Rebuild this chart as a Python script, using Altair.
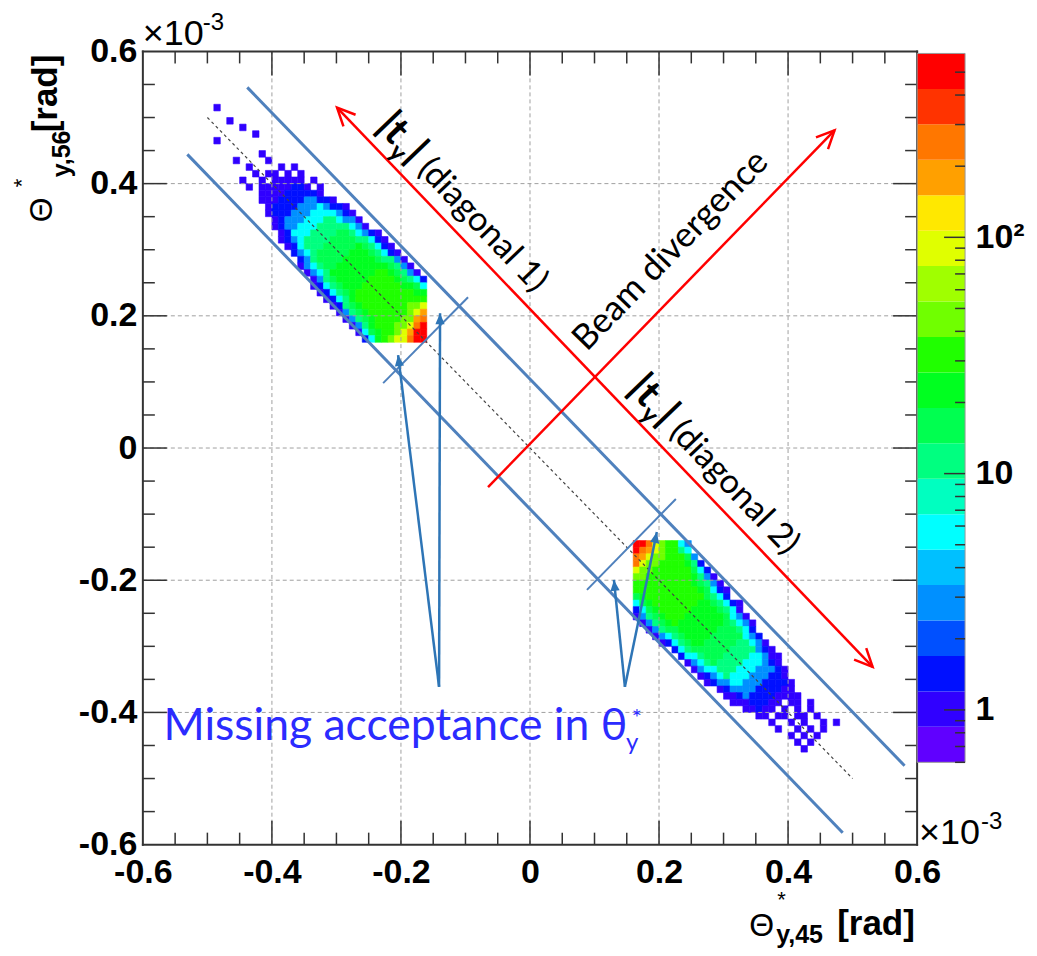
import math
import altair as alt
import pandas as pd

# ------------------------------------------------------------------ layout
W, H = 775, 794
PAD = {"left": 135, "top": 43, "right": 112, "bottom": 103}

# ------------------------------------------------------------------ axes
X_DOMAIN = [-0.6, 0.6]
Y_DOMAIN = [-0.6, 0.6]
MAJOR_TICKS = [-0.6, -0.4, -0.2, 0.0, 0.2, 0.4, 0.6]
MAJOR_LABELS = ["-0.6", "-0.4", "-0.2", "0", "0.2", "0.4", "0.6"]
MINOR_TICKS = [-0.55, -0.5, -0.45, -0.35, -0.3, -0.25, -0.15, -0.1, -0.05,
               0.05, 0.1, 0.15, 0.25, 0.3, 0.35, 0.45, 0.5, 0.55]

# ------------------------------------------------------------------ z palette / colour bar
PALETTE = ["#6000ff", "#3000ff", "#0010ff", "#0050ff", "#0090ff", "#00c0ff",
           "#00ffff", "#00ffc0", "#00ff80", "#00ff50", "#00ff20", "#20ff00",
           "#70ff00", "#a0ff00", "#e0ff00", "#ffe800", "#ffa000", "#ff7700",
           "#ff3300", "#ff0000"]
Z_MIN, Z_MAX = 0.6, 600.0
CB_DOMAIN = [0.269, 612.0]
CB_TICKS = [1, 10, 100]
CB_LABELS = ["1", "10", "10²"]
CB_MINOR = [0.6, 0.7, 0.8, 0.9, 2, 3, 4, 5, 6, 7, 8, 9,
            20, 30, 40, 50, 60, 70, 80, 90, 200, 300, 400, 500]

# ------------------------------------------------------------------ histogram (0.01 rad bins)
BIN = 0.01
LEVELS = "123456789abcd"
LEVEL_VALUES = [1.0, 1.4, 2.8, 5.7, 11, 16, 22, 32, 45, 90, 180, 250, 500]

# diagonal 1 (top-left blob): columns from x=-0.52, rows from y=0.52 downwards
BLOB1_X0, BLOB1_YTOP = -0.52, 0.52
BLOB1_ROWS = [
    (3, "1"), (0, ""), (5, "1"), (7, "1"), (9, "1"), (3, "1"), (0, ""),
    (10, "1"), (6, "1....1"), (8, "1....1.1"), (9, "1.11.1.1"),
    (7, "1..1.11111.1"), (8, "1.11111221.1"), (10, "1111222221"),
    (10, "111222233221"), (11, "1222233343221"), (11, "12223334444321"),
    (12, "12333444554331"), (12, "123344455555431"), (13, "1244455556654321"),
    (13, "12345555666655421"), (14, "12455566666765421"), (15, "23456666677765421"),
    (16, "23566667777765531"), (16, "134566777777776531"), (17, "134577777778876531"),
    (18, "135677777888876542"), (18, "124567778888887764"), (19, "12456788888888877"),
    (20, "1245788888888888"), (21, "12567888888899a"), (22, "135678888889ab"),
    (23, "13567888899bc"), (24, "135788899acd"), (25, "1467889abdd"),
    (26, "24789aacdd"),
]

# diagonal 2 (bottom-right blob): columns from x=0.16, rows from y=-0.14 downwards
BLOB2_X0, BLOB2_YTOP = 0.16, -0.14
BLOB2_ROWS = [
    (0, "ddca98843"), (0, "dcba98854"), (0, "cba9988863"), (0, "ca998888752"),
    (0, "a99888888642"), (0, "9988888887531"), (0, "88888888876531"),
    (0, "888888888876421"), (0, "678888888886542"), (0, "46788888887765421"),
    (0, "24678888877776541"), (0, "135678887777776431"), (1, "135678777777765431"),
    (2, "13566777777666542"), (3, "13456777766666432"), (4, "12456776666655431"),
    (6, "2456666665555321"), (7, "2445666555544311"), (8, "134565555444321"),
    (9, "134455544433321"), (10, "12345444333221"), (11, "12334433322221"),
    (13, "123333222211"), (14, "112322221111"), (15, "11122211.11.1"),
    (17, "11211.1.1.1"), (19, "11.11.11.1"), (21, "1..1.1..1.1"),
    (22, "1..1.1.1"), (24, "1.1.1"), (25, "1.1"), (26, "1"),
]

# ------------------------------------------------------------------ annotation geometry (data units)
DIAGONAL = [(-0.5, 0.5, 0.5, -0.5)]
BAND_LINES = [(-0.4382, 0.5456, 0.5806, -0.4806), (-0.5311, 0.4443, 0.4847, -0.5819)]
CUT_LINES = [(-0.2276, 0.0982, -0.0960, 0.2282), (0.0883, -0.2146, 0.2261, -0.0771)]
BLUE_ARROWS = [(-0.1409, -0.3612, -0.2044, 0.1406), (-0.1409, -0.3612, -0.1394, 0.2040),
               (0.1471, -0.3612, 0.1301, -0.1995), (0.1471, -0.3612, 0.1966, -0.1270)]
RED_T = (-0.299, 0.515, 0.531, -0.331)      # |t_y| direction, heads at both ends
RED_B = (-0.065, -0.059, 0.472, 0.4806)     # beam divergence, head at end
DIAG_TEXT = [(-0.240, 0.485, "(diagonal 1)"), (0.150, 0.088, "(diagonal 2)")]
BEAM_TEXT = (0.088, 0.145, "Beam divergence")
MISSING_TEXT = (-0.568, -0.441, "Missing acceptance in θ")
MISSING_SUB = (0.1487, -0.4564, "y")
MISSING_SUP = (0.1657, -0.4096, "*")

SX = W / (X_DOMAIN[1] - X_DOMAIN[0])
SY = H / (Y_DOMAIN[1] - Y_DOMAIN[0])

# ------------------------------------------------------------------ helpers
def label_expr(vals, labs):
    parts = [f"abs(datum.value - ({v})) < 1e-6 ? '{l}'" for v, l in zip(vals, labs)]
    return " : ".join(parts) + " : ''"


xs = alt.Scale(domain=X_DOMAIN, nice=False, zero=False)
ys = alt.Scale(domain=Y_DOMAIN, nice=False, zero=False)
AX = dict(values=MAJOR_TICKS, labelExpr=label_expr(MAJOR_TICKS, MAJOR_LABELS), title=None,
          ticks=False, domain=False, grid=False, labelFont="Liberation Sans",
          labelFontSize=34, labelFontWeight="bold", labelColor="#000",
          labelFlush=False, labelOverlap=False)
xaxis = alt.Axis(orient="bottom", labelPadding=11, **AX)
yaxis = alt.Axis(orient="left", labelPadding=6, **AX)


def X(f):
    return alt.X(f, type="quantitative", scale=xs, axis=xaxis)


def Y(f):
    return alt.Y(f, type="quantitative", scale=ys, axis=yaxis)


thresholds = [Z_MIN * (Z_MAX / Z_MIN) ** (k / len(PALETTE)) for k in range(1, len(PALETTE))]
cscale = alt.Scale(type="threshold", domain=thresholds, range=PALETTE)


def cells(x0, ytop, rows):
    out = []
    for r, (start, pat) in enumerate(rows):
        for k, ch in enumerate(pat):
            if ch == ".":
                continue
            c = start + k
            xl = round(x0 + c * BIN, 4)
            yt = round(ytop - r * BIN, 4)
            out.append(dict(x=xl, x2=round(xl + BIN, 4), y=round(yt - BIN, 4), y2=yt,
                            z=LEVEL_VALUES[LEVELS.index(ch)]))
    return out


def segs(rows, color, width, dash=None, cap="butt"):
    df = pd.DataFrame(rows, columns=["x", "y", "x2", "y2"])
    kw = dict(color=color, strokeWidth=width, strokeCap=cap)
    if dash:
        kw["strokeDash"] = dash
    return alt.Chart(df).mark_rule(**kw).encode(x=X("x"), y=Y("y"), x2=alt.X2("x2"), y2=alt.Y2("y2"))


def head_angle(x0, y0, x1, y1):
    px, py = (x1 - x0) * SX, -(y1 - y0) * SY
    return math.degrees(math.atan2(px, -py)) % 360


def text_angle(x0, y0, x1, y1):
    px, py = (x1 - x0) * SX, -(y1 - y0) * SY
    return math.degrees(math.atan2(py, px)) % 360


def shift(x, y, ang, along, perp=0.0):
    a = math.radians(ang)
    sx = along * math.cos(a) - perp * math.sin(a)
    sy = along * math.sin(a) + perp * math.cos(a)
    return x + sx / SX, y - sy / SY


def heads(points, shape, size, color, filled, width=0.0):
    df = pd.DataFrame(points, columns=["x", "y", "ang"])
    return alt.Chart(df).mark_point(shape=shape, size=size, filled=filled, opacity=1,
                                    color=color, strokeWidth=width, strokeJoin="miter").encode(
        x=X("x"), y=Y("y"), angle=alt.Angle("ang:Q", scale=None))


def dtext(rows, size, weight="normal", font="Lato, 'Noto Sans', sans-serif", color="#000",
          align="left", baseline="alphabetic"):
    df = pd.DataFrame(rows, columns=["x", "y", "text", "ang"])
    return alt.Chart(df).mark_text(font=font, fontSize=size, fontWeight=weight, color=color,
                                   align=align, baseline=baseline).encode(
        x=X("x"), y=Y("y"), text="text:N", angle=alt.Angle("ang:Q", scale=None))


def ptext(text, px, py, size, weight="normal", angle=0, font="Liberation Sans"):
    return alt.Chart(pd.DataFrame({"t": [text]})).mark_text(
        text=text, font=font, fontSize=size, fontWeight=weight, angle=angle, color="#000",
        align="left", baseline="alphabetic").encode(x=alt.value(px), y=alt.value(py))


# ------------------------------------------------------------------ histogram layer
cell_df = pd.DataFrame(cells(BLOB1_X0, BLOB1_YTOP, BLOB1_ROWS) + cells(BLOB2_X0, BLOB2_YTOP, BLOB2_ROWS))
heat = alt.Chart(cell_df).mark_rect(strokeWidth=0.6).encode(
    x=X("x"), x2=alt.X2("x2"), y=Y("y"), y2=alt.Y2("y2"),
    color=alt.Color("z:Q", scale=cscale, legend=None),
    stroke=alt.Stroke("z:Q", scale=cscale, legend=None))

# grid (drawn over the histogram, like ROOT)
inner = [v for v in MAJOR_TICKS if abs(abs(v) - 0.6) > 1e-9]
grid_rows = [(v, Y_DOMAIN[0], v, Y_DOMAIN[1]) for v in inner] + [(X_DOMAIN[0], v, X_DOMAIN[1], v) for v in inner]
grid = segs(grid_rows, "#a0a0a0", 1, dash=[4, 3])

dotted = segs(DIAGONAL, "#444444", 1.2, dash=[3, 3])
band = segs(BAND_LINES, "#4f81bd", 3)
cuts = segs(CUT_LINES, "#4f81bd", 2)

# blue arrows
bshaft = segs(BLUE_ARROWS, "#2e75b6", 2.5)
bhead = heads([(x1, y1, head_angle(x0, y0, x1, y1)) for x0, y0, x1, y1 in BLUE_ARROWS],
              "M0,0 L-0.42,1 L0.42,1 Z", 484, "#2e75b6", True)

# red arrows
rshaft = segs([RED_T, RED_B], "#ff0000", 2.5)
V = "M-0.42,0.9 L0,0 L0.42,0.9"
rhead_pts = [
    (RED_T[0], RED_T[1], head_angle(RED_T[2], RED_T[3], RED_T[0], RED_T[1])),
    (RED_T[2], RED_T[3], head_angle(RED_T[0], RED_T[1], RED_T[2], RED_T[3])),
    (RED_B[2], RED_B[3], head_angle(RED_B[0], RED_B[1], RED_B[2], RED_B[3])),
]
rhead = heads(rhead_pts, V, 1600, "#ff0000", False, 2.5)

# rotated labels along the red arrows
a_t = text_angle(*RED_T)
a_b = text_angle(*RED_B)
big_rows, sub_rows, par_rows = [], [], []
for ax_, ay_, lab in DIAG_TEXT:
    big_rows.append((*shift(ax_, ay_, a_t, 0), "|t", a_t))
    sub_rows.append((*shift(ax_, ay_, a_t, 27, 9), "y", a_t))
    big_rows.append((*shift(ax_, ay_, a_t, 41), "|", a_t))
    par_rows.append((*shift(ax_, ay_, a_t, 60), lab, a_t))
t_big = dtext(big_rows, 40, "bold")
t_sub = dtext(sub_rows, 25, "bold")
t_par = dtext(par_rows, 34)
t_beam = dtext([(BEAM_TEXT[0], BEAM_TEXT[1], BEAM_TEXT[2], a_b)], 35)

BLUE_TXT = "#2b2bff"
t_miss = dtext([(*MISSING_TEXT, 0)], 44.5, color=BLUE_TXT)
t_msub = dtext([(*MISSING_SUB, 0)], 24, color=BLUE_TXT)
t_msup = dtext([(*MISSING_SUP, 0)], 24, color=BLUE_TXT, align="center", baseline="middle")

# frame and inward ticks
frame = segs([(X_DOMAIN[0], Y_DOMAIN[0], X_DOMAIN[1], Y_DOMAIN[0]),
              (X_DOMAIN[0], Y_DOMAIN[1], X_DOMAIN[1], Y_DOMAIN[1]),
              (X_DOMAIN[0], Y_DOMAIN[0], X_DOMAIN[0], Y_DOMAIN[1]),
              (X_DOMAIN[1], Y_DOMAIN[0], X_DOMAIN[1], Y_DOMAIN[1])], "#333333", 2, cap="square")
tick_rows = []
for v, L in [(v, 24) for v in inner] + [(v, 12) for v in MINOR_TICKS]:
    lx, ly = L / SX, L / SY
    tick_rows += [(v, Y_DOMAIN[0], v, Y_DOMAIN[0] + ly), (v, Y_DOMAIN[1], v, Y_DOMAIN[1] - ly),
                  (X_DOMAIN[0], v, X_DOMAIN[0] + lx, v), (X_DOMAIN[1], v, X_DOMAIN[1] - lx, v)]
ticks = segs(tick_rows, "#333333", 1.5)

# axis titles and exponent markers (pixel positions relative to the plot area)
titles = [
    ptext("Θ", 607, 885, 32), ptext("*", 635, 856, 22), ptext("y,45", 634, 892, 25, "bold"),
    ptext("[rad]", 695, 884, 35, "bold"),
    ptext("Θ", -91, 171, 32, angle=270), ptext("*", -114, 136, 22, angle=270),
    ptext("y,56", -73, 126, 25, "bold", angle=270), ptext("[rad]", -86, 81, 35, "bold", angle=270),
    ptext("×10", 0, -6, 36), ptext("-3", 60, -21, 24),
    ptext("×10", 777, 793, 36), ptext("-3", 839, 778, 24),
]

main = alt.layer(heat, grid, dotted, band, cuts, bshaft, bhead, rshaft, rhead,
                 t_big, t_sub, t_par, t_beam, t_miss, t_msub, t_msup, frame, ticks, *titles)

# ------------------------------------------------------------------ colour bar
cb_rows = []
n = len(PALETTE)
for k in range(n):
    lo = Z_MIN * (Z_MAX / Z_MIN) ** (k / n)
    hi = Z_MIN * (Z_MAX / Z_MIN) ** ((k + 1) / n)
    cb_rows.append(dict(lo=lo, hi=hi, mid=math.sqrt(lo * hi)))
cb_df = pd.DataFrame(cb_rows)
cbs = alt.Scale(type="log", domain=CB_DOMAIN, nice=False)
cb_axis = alt.Axis(orient="right", values=CB_TICKS, labelExpr=label_expr(CB_TICKS, CB_LABELS),
                   offset=48, ticks=False, tickSize=0, domain=False, grid=False, title=None,
                   labelFont="Liberation Sans", labelFontSize=34, labelFontWeight="bold",
                   labelColor="#000", labelPadding=10, labelFlush=False, labelOverlap=False)
CBX0, CBX1 = W, W + 48
cb_rect = alt.Chart(cb_df).mark_rect().encode(
    x=alt.value(CBX0), x2=alt.value(CBX1),
    y=alt.Y("lo:Q", scale=cbs, axis=cb_axis), y2=alt.Y2("hi:Q"),
    color=alt.Color("mid:Q", scale=cscale, legend=None))
cb_border = alt.Chart(pd.DataFrame({"lo": [Z_MIN], "hi": [Z_MAX]})).mark_rect(
    filled=False, stroke="#999999", strokeWidth=1).encode(
    x=alt.value(CBX0), x2=alt.value(CBX1),
    y=alt.Y("lo:Q", scale=cbs, axis=cb_axis), y2=alt.Y2("hi:Q"))
cb_major = alt.Chart(pd.DataFrame({"v": CB_TICKS})).mark_rule(color="#333333", strokeWidth=1.5).encode(
    x=alt.value(CBX1 - 21), x2=alt.value(CBX1), y=alt.Y("v:Q", scale=cbs, axis=cb_axis))
cb_minor = alt.Chart(pd.DataFrame({"v": CB_MINOR})).mark_rule(color="#333333", strokeWidth=1.5).encode(
    x=alt.value(CBX1 - 10), x2=alt.value(CBX1), y=alt.Y("v:Q", scale=cbs, axis=cb_axis))
cb = alt.layer(cb_rect, cb_border, cb_major, cb_minor)

chart = alt.layer(main, cb).resolve_scale(y="independent").properties(
    width=W, height=H, autosize=alt.AutoSizeParams(type="none"), padding=PAD,
    background="white").configure_view(stroke=None)

chart.save("out.html", embed_options={"renderer": "svg", "actions": False})
